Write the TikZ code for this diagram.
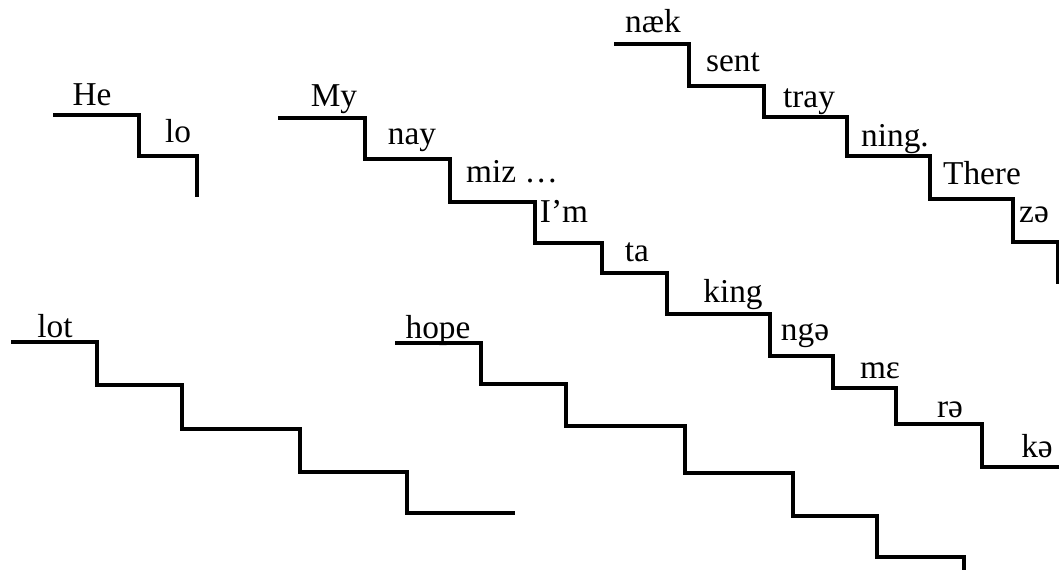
\documentclass[tikz,border=0pt]{standalone}
\usepackage{fontspec}
\setmainfont{Liberation Serif}
\begin{document}
\begin{tikzpicture}[x=0.75pt,y=-0.75pt,
  stair/.style={line width=2.6pt,line join=miter},
  word/.style={anchor=base,inner sep=0pt,font=\fontsize{25}{30}\selectfont}]
\useasboundingbox (0,0) rectangle (1059,570);
% He-lo
\draw[stair] (53,115) -- (139,115) -- (139,156) -- (197,156) -- (197,197);
\node[word] (he) at (92,106) {He};
\node[word] (lo) at (178,143) {lo};
% My name is ...
\draw[stair] (278,118) -- (365,118) -- (365,159) -- (450,159) -- (450,202) -- (535,202) -- (535,243)
  -- (602,243) -- (602,273) -- (667,273) -- (667,314) -- (770,314) -- (770,356) -- (833,356)
  -- (833,388) -- (896,388) -- (896,424) -- (982,424) -- (982,467) -- (1059,467);
\node[word] (my) at (334,107) {My};
\node[word] (nay) at (412,145) {nay};
\node[word] (miz) at (512,183) {miz …};
\node[word] (im) at (564,223) {I’m};
\node[word] (ta) at (637,262) {ta};
\node[word] (king) at (733,302) {king};
\node[word] (nge) at (805,340) {ngə};
\node[word] (me) at (880,378) {mɛ};
\node[word] (re) at (950,417) {rə};
\node[word] (ke) at (1037,457) {kə};
% næk sent tray ning
\draw[stair] (614,44) -- (689,44) -- (689,86) -- (764,86) -- (764,117) -- (847,117) -- (847,156)
  -- (930,156) -- (930,199) -- (1013,199) -- (1013,242) -- (1058,242) -- (1058,284);
\node[word] (naek) at (653,33) {næk};
\node[word] (sent) at (733,72) {sent};
\node[word] (tray) at (809,108) {tray};
\node[word] (ning) at (895,147) {ning.};
\node[word] (there) at (982,185) {There};
\node[word] (ze) at (1034,223) {zə};
% lot
\draw[stair] (11,342) -- (97,342) -- (97,385) -- (182,385) -- (182,429) -- (300,429) -- (300,472)
  -- (407,472) -- (407,513) -- (515,513);
\node[word] (lot) at (55,337) {lot};
% hope
\draw[stair] (395,343) -- (481,343) -- (481,384) -- (566,384) -- (566,426) -- (685,426) -- (685,473)
  -- (793,473) -- (793,516) -- (877,516) -- (877,557) -- (964,557) -- (964,570);
\node[word] (hope) at (438,338) {hope};
\end{tikzpicture}
\end{document}
